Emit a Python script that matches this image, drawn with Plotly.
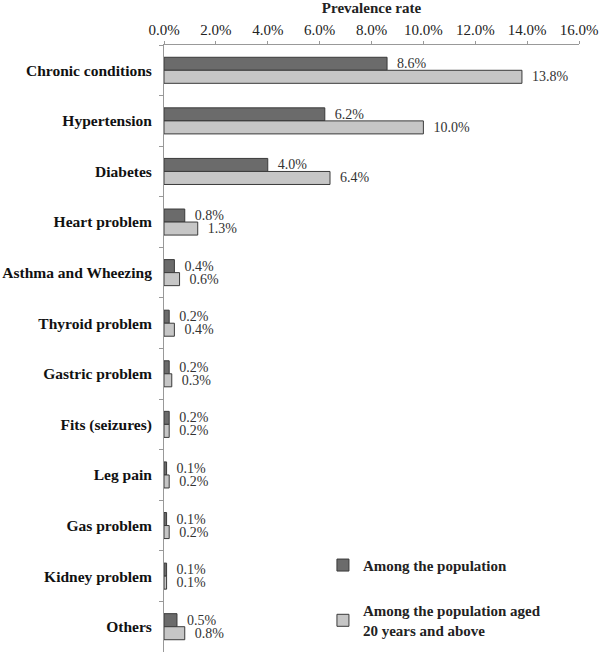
import plotly.graph_objects as go

categories = ["Chronic conditions", "Hypertension", "Diabetes", "Heart problem",
              "Asthma and Wheezing", "Thyroid problem", "Gastric problem",
              "Fits (seizures)", "Leg pain", "Gas problem", "Kidney problem", "Others"]
population = [8.6, 6.2, 4.0, 0.8, 0.4, 0.2, 0.2, 0.2, 0.1, 0.1, 0.1, 0.5]
aged20 = [13.8, 10.0, 6.4, 1.3, 0.6, 0.4, 0.3, 0.2, 0.2, 0.2, 0.1, 0.8]
tick_vals = [0, 2, 4, 6, 8, 10, 12, 14, 16]
tick_text = ["0.0%", "2.0%", "4.0%", "6.0%", "8.0%", "10.0%", "12.0%", "14.0%", "16.0%"]

font_serif = "Liberation Serif, DejaVu Serif, serif"
pad = "\u00a0\u00a0"

fig = go.Figure()
fig.add_trace(go.Bar(
    y=categories, x=population, orientation="h",
    name="<b>Among the population</b>",
    marker=dict(color="#6b6b6b", line=dict(color="#3a3a3a", width=1)),
    text=[f"{pad}{v:.1f}%" for v in population], textposition="outside",
    constraintext="none",
    textfont=dict(family=font_serif, size=14, color="#333333"),
    cliponaxis=False, legendgroup="a",
))
fig.add_trace(go.Bar(
    y=categories, x=aged20, orientation="h",
    name="<b>Among the population aged<br>20 years and above</b>",
    marker=dict(color="#c6c6c6", line=dict(color="#3a3a3a", width=1)),
    text=[f"{pad}{v:.1f}%" for v in aged20], textposition="outside",
    constraintext="none",
    textfont=dict(family=font_serif, size=14, color="#333333"),
    cliponaxis=False, legendgroup="b",
))

fig.update_layout(
    width=600, height=654,
    barmode="group", bargap=0.485, bargroupgap=0,
    plot_bgcolor="white", paper_bgcolor="white",
    margin=dict(l=164, r=21, t=45, b=2),
    font=dict(family=font_serif, size=15, color="#222222"),
    xaxis=dict(
        side="top", range=[0, 16], tickvals=tick_vals, ticktext=tick_text,
        showline=True, linecolor="#999999", linewidth=1,
        ticks="outside", ticklen=3, tickcolor="#999999",
        showgrid=False, zeroline=False, automargin=False,
        tickfont=dict(family=font_serif, size=15, color="#222222"),
        title=dict(text="<b>Prevalence rate</b>", standoff=5,
                   font=dict(family=font_serif, size=15, color="#222222")),
    ),
    yaxis=dict(
        autorange="reversed", showline=True, linecolor="#999999", linewidth=1,
        ticks="outside", tickson="boundaries", ticklen=4, tickcolor="#999999",
        showgrid=False, automargin=False,
        tickfont=dict(family=font_serif, size=15.5, color="#111111"),
        ticklabelstandoff=8,
    ),
    legend=dict(
        x=0.383, y=0.170, xanchor="left", yanchor="top",
        font=dict(family=font_serif, size=15, color="#222222"),
        tracegroupgap=23, itemwidth=30, bgcolor="rgba(0,0,0,0)",
    ),
    showlegend=True,
)
fig.update_yaxes(tickprefix="<b>", ticksuffix="</b>")

fig.write_html("out.html", config={"displayModeBar": False},
               post_script="document.body.style.margin='0';")
